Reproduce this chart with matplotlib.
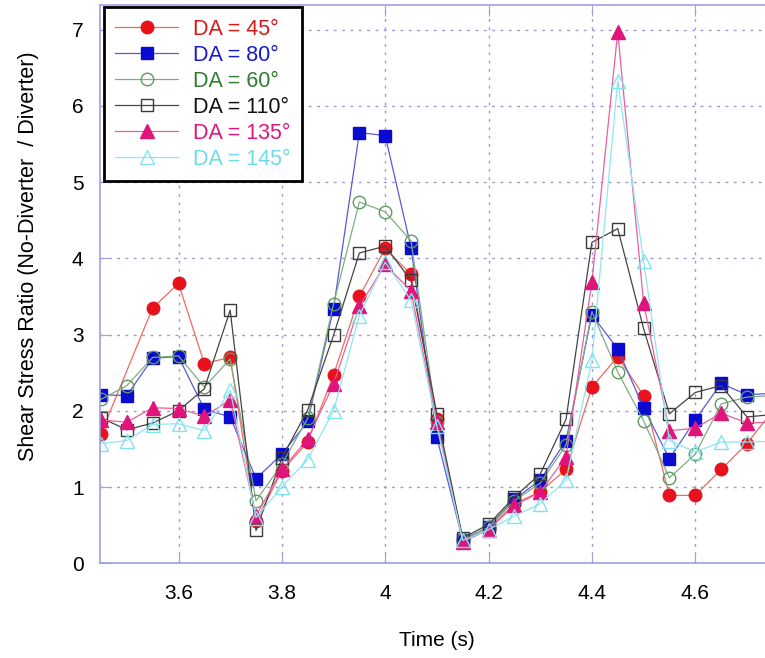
import numpy as np
import matplotlib
matplotlib.use('Agg')
import matplotlib.pyplot as plt

plt.rcParams['font.family'] = ['Liberation Sans', 'DejaVu Sans']

# Tempo (s)
tempo = [3.45, 3.50, 3.55, 3.60, 3.65, 3.70, 3.75, 3.80, 3.85, 3.90, 3.95, 4.00, 4.05, 4.10,
         4.15, 4.20, 4.25, 4.30, 4.35, 4.40, 4.45, 4.50, 4.55, 4.60, 4.65, 4.70, 4.75]

nan = np.nan
da45 = [1.70, nan, 3.35, 3.67, 2.62, 2.70, 0.55, 1.21, 1.59, 2.47, 3.50, 4.13, 3.79, 1.89,
        0.30, 0.45, 0.78, 0.94, 1.23, 2.31, 2.71, 2.20, 0.89, 0.89, 1.23, 1.57, 2.00]
da80 = [2.21, 2.20, 2.69, 2.71, 2.02, 1.92, 1.11, 1.43, 1.86, 3.34, 5.65, 5.61, 4.14, 1.65,
        0.30, 0.48, 0.84, 1.09, 1.61, 3.26, 2.81, 2.04, 1.37, 1.88, 2.36, 2.21, 2.23]
da60 = [2.15, 2.33, 2.70, 2.72, 2.31, 2.68, 0.82, 1.30, 1.90, 3.40, 4.74, 4.61, 4.23, 1.85,
        0.32, 0.47, 0.82, 1.05, 1.55, 3.30, 2.51, 1.87, 1.12, 1.43, 2.09, 2.18, 2.20]
da110 = [1.91, 1.75, 1.84, 2.00, 2.29, 3.32, 0.43, 1.38, 2.01, 2.99, 4.07, 4.16, 3.71, 1.96,
         0.33, 0.51, 0.87, 1.17, 1.89, 4.21, 4.39, 3.08, 1.96, 2.24, 2.33, 1.92, 1.95]
da135 = [1.88, 1.85, 2.04, 2.03, 1.93, 2.14, 0.62, 1.23, 1.63, 2.35, 3.37, 3.92, 3.57, 1.85,
         0.28, 0.44, 0.76, 0.93, 1.40, 3.69, 6.97, 3.42, 1.74, 1.77, 1.97, 1.84, 1.85]
da145 = [1.57, 1.61, 1.82, 1.83, 1.74, 2.27, 0.60, 1.00, 1.36, 2.00, 3.25, 3.95, 3.45, 1.80,
         0.30, 0.44, 0.62, 0.78, 1.09, 2.66, 6.33, 3.97, 1.61, 1.46, 1.59, 1.59, 1.60]

# (legenda, valores, cor marcador, cor linha, marcador, cheio, cor texto)
series = [
    ('DA = 45°', da45, '#e8121c', '#ee6a60', 'o', True, '#d81818'),
    ('DA = 80°', da80, '#0a0ad0', '#5a5ad8', 's', True, '#1a1acc'),
    ('DA = 60°', da60, '#5f9a5f', '#7fae7f', 'o', False, '#2f7d2f'),
    ('DA = 110°', da110, '#3a3a3a', '#444444', 's', False, '#111111'),
    ('DA = 135°', da135, '#e0157c', '#e8609e', '^', True, '#e0157c'),
    ('DA = 145°', da145, '#7fe3f0', '#8fe6f2', '^', False, '#6fdbea'),
]

fig = plt.figure(figsize=(7.65, 6.58), dpi=100)
ax = fig.add_axes([0.131, 0.144, 0.869, 0.848])

t = np.array(tempo)
for nome, vals, cor, cor_lin, mk, cheio, cor_txt in series:
    y = np.array(vals, dtype=float)
    m = ~np.isnan(y)
    ax.plot(t[m], y[m], color=cor_lin, lw=0.9, marker=mk, markersize=9 if mk != '^' else 9.5,
            markerfacecolor=cor if cheio else 'none', markeredgecolor=cor,
            markeredgewidth=1.0, label=nome)

ax.set_xlim(3.4485, 4.735)
ax.set_ylim(0, 7.32)
ax.set_xticks([3.6, 3.8, 4.0, 4.2, 4.4, 4.6])
ax.set_xticklabels(['3.6', '3.8', '4', '4.2', '4.4', '4.6'])
ax.set_yticks(range(0, 8))

cor_eixo = '#a0a0e0'
for lado in ['left', 'bottom', 'top']:
    ax.spines[lado].set_color(cor_eixo)
    ax.spines[lado].set_linewidth(1.2)
ax.spines['right'].set_visible(False)
ax.tick_params(axis='both', direction='in', length=8, color=cor_eixo, labelsize=15,
               top=True, right=False)
ax.tick_params(axis='x', pad=15)
ax.tick_params(axis='y', pad=12)
ax.grid(True, linestyle=(0, (2, 4)), color='#9a9ad0', linewidth=1.0)

ax.set_xlabel('Time (s)', fontsize=15)
ax.set_ylabel('Shear Stress Ratio (No-Diverter  / Diverter)', fontsize=15.5)
ax.xaxis.set_label_coords(0.507, -0.138)
ax.xaxis.label.set_va('center')
ax.yaxis.set_label_coords(-0.108, 0.55)
ax.yaxis.label.set_va('center')

leg = ax.legend(loc='upper left', bbox_to_anchor=(0.005, 0.997), borderaxespad=0,
                fontsize=15.5, fancybox=False, framealpha=1, edgecolor='black',
                handlelength=2.9, labelspacing=0.23, borderpad=0.55, handletextpad=0.7)
leg.get_frame().set_linewidth(2)
for txt, s in zip(leg.get_texts(), series):
    txt.set_color(s[6])

fig.savefig('out.png', dpi=100)
